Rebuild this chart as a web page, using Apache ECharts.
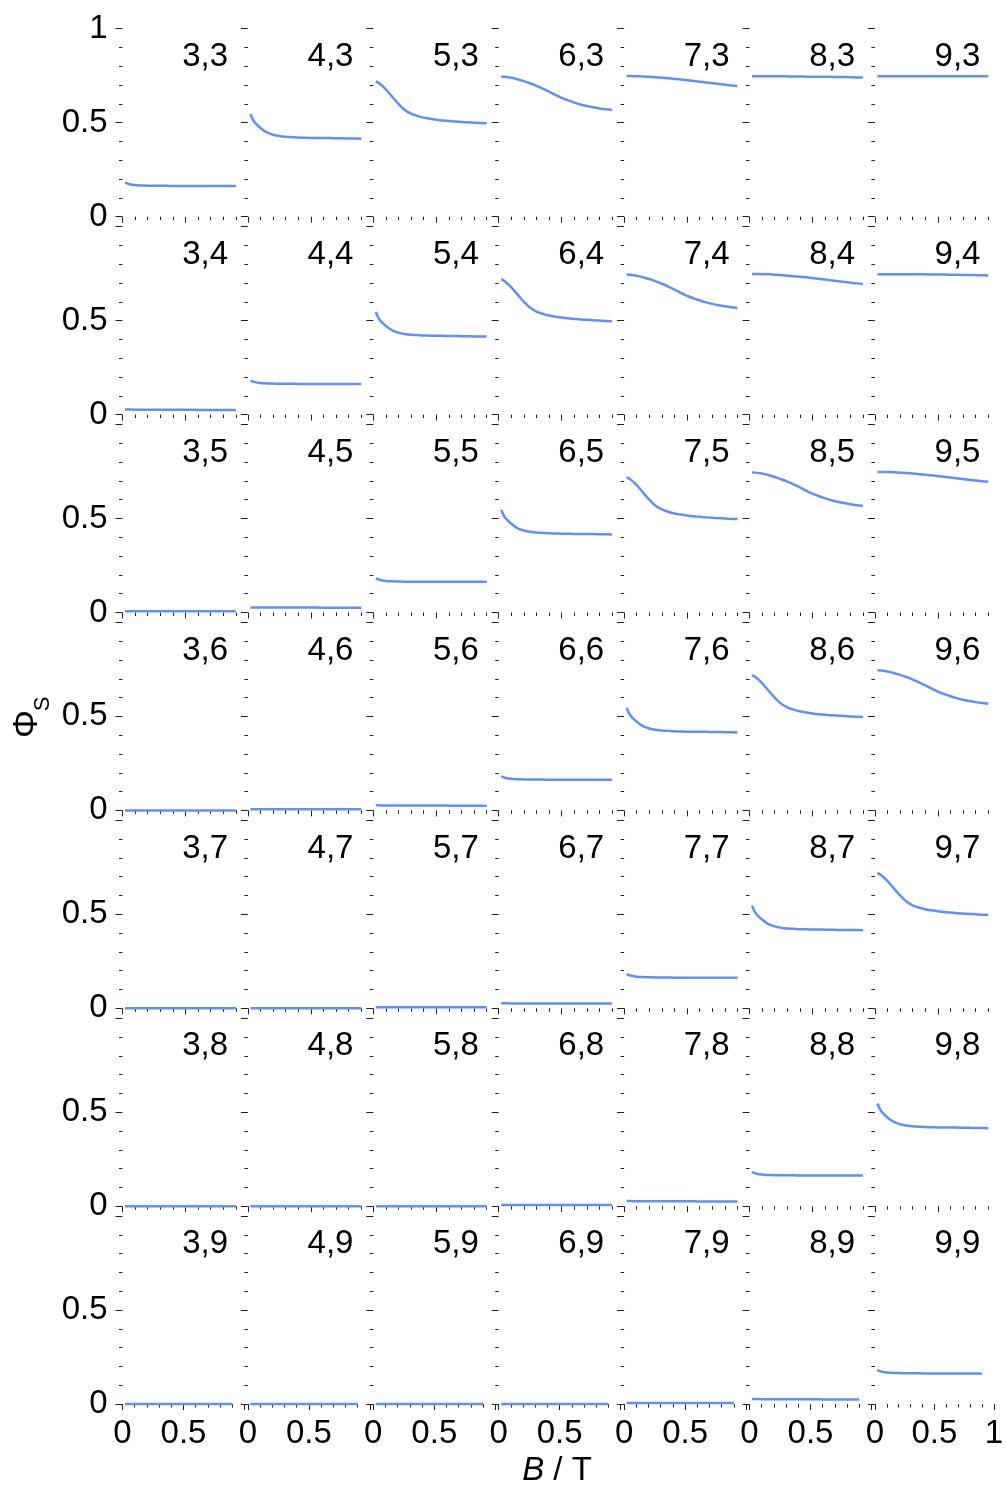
<!DOCTYPE html>
<html>
<head>
<meta charset="utf-8">
<script src="https://cdn.jsdelivr.net/npm/echarts@6/dist/echarts.min.js"></script>
<style>
  html, body { margin: 0; padding: 0; background: #fff; }
  #chart { width: 1006px; height: 1486px; }
</style>
</head>
<body>
<div id="chart"></div>
<script>
// Magnetic field samples (T) shared by every panel
const fieldB = [0.02, 0.05, 0.1, 0.15, 0.2, 0.25, 0.3, 0.35, 0.4, 0.45, 0.5,
                0.55, 0.6, 0.65, 0.7, 0.75, 0.8, 0.85, 0.9];

// Panel indices: first number runs along the columns, second along the rows
const firstIndex = [3, 4, 5, 6, 7, 8, 9];
const secondIndex = [3, 4, 5, 6, 7, 8, 9];

// Φ_S(B) curves, one per difference (first − second)
const phiZero   = [0, 0, 0, 0, 0, 0, 0, 0, 0, 0, 0, 0, 0, 0, 0, 0, 0, 0, 0];
const phiDiffM2 = [0.006, 0.006, 0.006, 0.006, 0.006, 0.006, 0.006, 0.006, 0.006, 0.006,
                   0.006, 0.006, 0.006, 0.006, 0.006, 0.006, 0.006, 0.006, 0.006];
const phiDiffM1 = [0.027, 0.027, 0.026, 0.026, 0.026, 0.026, 0.026, 0.026, 0.026, 0.026,
                   0.026, 0.026, 0.025, 0.025, 0.025, 0.025, 0.025, 0.025, 0.025];
const phiDiff0  = [0.181, 0.174, 0.168, 0.166, 0.165, 0.164, 0.164, 0.164, 0.163, 0.163,
                   0.163, 0.163, 0.163, 0.163, 0.163, 0.163, 0.163, 0.163, 0.163];
const phiDiff1  = [0.546, 0.505, 0.472, 0.448, 0.436, 0.429, 0.425, 0.423, 0.421, 0.420,
                   0.419, 0.419, 0.418, 0.418, 0.417, 0.417, 0.416, 0.416, 0.415];
const phiDiff2  = [0.720, 0.708, 0.677, 0.638, 0.600, 0.568, 0.548, 0.536, 0.527, 0.521,
                   0.516, 0.512, 0.509, 0.506, 0.504, 0.502, 0.500, 0.498, 0.497];
const phiDiff3  = [0.745, 0.744, 0.739, 0.731, 0.721, 0.709, 0.696, 0.681, 0.665, 0.648,
                   0.632, 0.619, 0.607, 0.597, 0.589, 0.582, 0.576, 0.571, 0.567];
const phiDiff4  = [0.748, 0.748, 0.747, 0.746, 0.744, 0.742, 0.739, 0.736, 0.733, 0.730,
                   0.726, 0.722, 0.718, 0.714, 0.710, 0.706, 0.702, 0.698, 0.695];
const phiDiff5  = [0.747, 0.747, 0.747, 0.747, 0.747, 0.747, 0.746, 0.746, 0.746, 0.745,
                   0.745, 0.745, 0.744, 0.744, 0.743, 0.743, 0.742, 0.741, 0.740];
const phiDiff6  = [0.747, 0.747, 0.747, 0.747, 0.747, 0.747, 0.747, 0.747, 0.747, 0.747,
                   0.747, 0.747, 0.747, 0.747, 0.747, 0.747, 0.747, 0.747, 0.747];

// Tick values and their labels
const xTickValues = [0, 0.5, 1];
const xTickLabels = ['0', '0.5', '1'];
const yTickValues = [0, 0.5, 1];
const yTickLabels = ['0', '0.5', '1'];

function curveFor(diff) {
  if (diff <= -3) return phiZero;
  const byDiff = {
    '-2': phiDiffM2, '-1': phiDiffM1, '0': phiDiff0, '1': phiDiff1,
    '2': phiDiff2, '3': phiDiff3, '4': phiDiff4, '5': phiDiff5, '6': phiDiff6
  };
  return byDiff[String(diff)];
}

// Layout of the panel grid (pixels)
const COL_X0 = 122.5, COL_PITCH = 125.4;
const ROW_Y0 = 216.7, ROW_PITCH = 197.9, PANEL_H = 188;
const PANEL_W = 126, PANEL_W_BOTTOM = 122;
const FONT = 'Liberation Sans, Arial, Helvetica, sans-serif';
const FONT_SIZE = 33;
const TICK_COLOR = '#222';
const CURVE_COLOR = '#628ff4';

const nCols = firstIndex.length, nRows = secondIndex.length;
const grids = [], xAxes = [], yAxes = [], series = [], graphics = [];

for (let r = 0; r < nRows; r++) {
  for (let c = 0; c < nCols; c++) {
    const idx = grids.length;
    const isBottom = r === nRows - 1;
    const isLeft = c === 0;
    const isLastCol = c === nCols - 1;
    const x0 = COL_X0 + c * COL_PITCH;
    const y0 = ROW_Y0 + r * ROW_PITCH;
    const w = isBottom ? PANEL_W_BOTTOM : PANEL_W;

    grids.push({ left: x0, top: y0 - PANEL_H, width: w, height: PANEL_H, containLabel: false });

    xAxes.push({
      type: 'value', gridIndex: idx, min: 0, max: 1, interval: 0.5, position: 'bottom',
      axisLine: { show: false },
      splitLine: { show: false },
      axisTick: Object.assign(
        { show: true, length: 6, lineStyle: { color: TICK_COLOR, width: 1 } },
        isBottom ? {} : { customValues: [0, 0.5] }
      ),
      minorTick: { show: true, splitNumber: 5, length: 3.5, lineStyle: { color: TICK_COLOR, width: 1 } },
      axisLabel: {
        show: isBottom, margin: 13, color: '#000', fontSize: FONT_SIZE, fontFamily: FONT,
        formatter: v => {
          const k = xTickValues.indexOf(v);
          if (k < 0) return '';
          if (v === 1 && !isLastCol) return '';
          return xTickLabels[k];
        }
      }
    });

    yAxes.push({
      type: 'value', gridIndex: idx, min: 0, max: 1, interval: 0.5,
      axisLine: { show: false },
      splitLine: { show: false },
      axisTick: { show: true, length: 7, lineStyle: { color: TICK_COLOR, width: 1 } },
      minorTick: { show: true, splitNumber: 5, length: 3.5, lineStyle: { color: TICK_COLOR, width: 1 } },
      axisLabel: {
        show: isLeft, margin: 15, color: '#000', fontSize: FONT_SIZE, fontFamily: FONT,
        formatter: v => {
          const k = yTickValues.indexOf(v);
          if (k < 0) return '';
          if (v === 1 && r > 0) return '';
          return yTickLabels[k];
        }
      }
    });

    const curve = curveFor(firstIndex[c] - secondIndex[r]);
    series.push({
      type: 'line', xAxisIndex: idx, yAxisIndex: idx,
      data: fieldB.map((b, i) => [b, curve[i]]),
      showSymbol: false, smooth: 0.35, clip: false, silent: true, animation: false,
      lineStyle: { color: CURVE_COLOR, width: 2.5, cap: 'butt', join: 'round' }
    });

    graphics.push({
      type: 'text', x: x0 + 105.5, y: y0 - 0.85 * PANEL_H, silent: true,
      style: {
        text: firstIndex[c] + ',' + secondIndex[r],
        align: 'right', verticalAlign: 'middle',
        fontSize: FONT_SIZE, fontFamily: FONT, fill: '#000'
      }
    });
  }
}

// Axis titles
graphics.push({
  type: 'text', x: 557, y: 1471, silent: true,
  style: {
    text: '{i|B}{n| / T}', align: 'center', verticalAlign: 'middle',
    rich: {
      i: { fontSize: FONT_SIZE, fontFamily: FONT, fontStyle: 'italic', fill: '#000' },
      n: { fontSize: FONT_SIZE, fontFamily: FONT, fill: '#000' }
    }
  }
});
graphics.push({
  type: 'text', x: 27, y: 724, rotation: Math.PI / 2, silent: true,
  style: { text: 'Φ', align: 'center', verticalAlign: 'middle', fontSize: 35, fontFamily: FONT, fill: '#000' }
});
graphics.push({
  type: 'text', x: 43, y: 704, rotation: Math.PI / 2, silent: true,
  style: { text: 'S', align: 'center', verticalAlign: 'middle', fontSize: 22, fontFamily: FONT, fill: '#000' }
});

const chart = echarts.init(document.getElementById('chart'), null, { renderer: 'canvas' });
chart.setOption({
  backgroundColor: '#fff',
  animation: false,
  grid: grids,
  xAxis: xAxes,
  yAxis: yAxes,
  series: series,
  graphic: graphics
});
</script>
</body>
</html>
